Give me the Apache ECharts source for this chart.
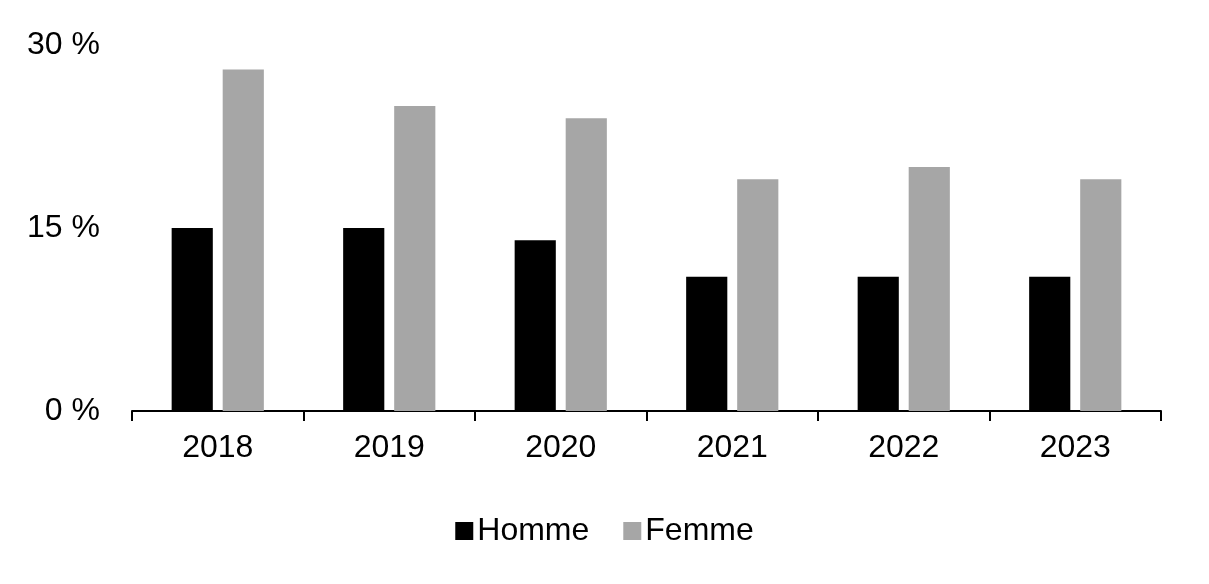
<!DOCTYPE html>
<html>
<head>
<meta charset="utf-8">
<script src="https://cdn.jsdelivr.net/npm/echarts@6/dist/echarts.min.js"></script>
<style>html,body{margin:0;padding:0;background:#fff;}#c{width:1209px;height:584px;}</style>
</head>
<body>
<div id="c"></div>
<script>
const categories = ['2018', '2019', '2020', '2021', '2022', '2023'];
const homme = [15, 15, 14, 11, 11, 11];
const femme = [28, 25, 24, 19, 20, 19];
const yTicks = [0, 15, 30];

const chart = echarts.init(document.getElementById('c'), null, {renderer: 'canvas'});
const font = 'Liberation Sans, Arial, sans-serif';
chart.setOption({
  animation: false,
  textStyle: {fontFamily: font},
  grid: {left: 132, right: 48, top: 45, bottom: 173, containLabel: false},
  legend: {
    data: ['Homme', 'Femme'],
    top: 510,
    left: 'center',
    itemWidth: 18,
    itemHeight: 18,
    itemGap: 34,
    icon: 'rect',
    textStyle: {fontSize: 32, color: '#000', fontFamily: font, padding: [0, 0, 0, -1]}
  },
  xAxis: {
    type: 'category',
    data: categories,
    axisLine: {show: true, lineStyle: {color: '#000', width: 2}},
    axisTick: {show: true, length: 10, lineStyle: {color: '#000', width: 2}},
    axisLabel: {fontSize: 32, color: '#000', margin: 21, fontFamily: font}
  },
  yAxis: {
    type: 'value',
    min: yTicks[0],
    max: yTicks[yTicks.length - 1],
    interval: 15,
    axisLine: {show: false},
    axisTick: {show: false},
    splitLine: {show: false},
    axisLabel: {fontSize: 32, color: '#000', margin: 32, fontFamily: font, formatter: v => v + ' %'}
  },
  series: [
    {name: 'Homme', type: 'bar', data: homme, barWidth: '24%', barGap: '24%', itemStyle: {color: '#000000'}},
    {name: 'Femme', type: 'bar', data: femme, barWidth: '24%', itemStyle: {color: '#a6a6a6'}}
  ]
});
</script>
</body>
</html>
